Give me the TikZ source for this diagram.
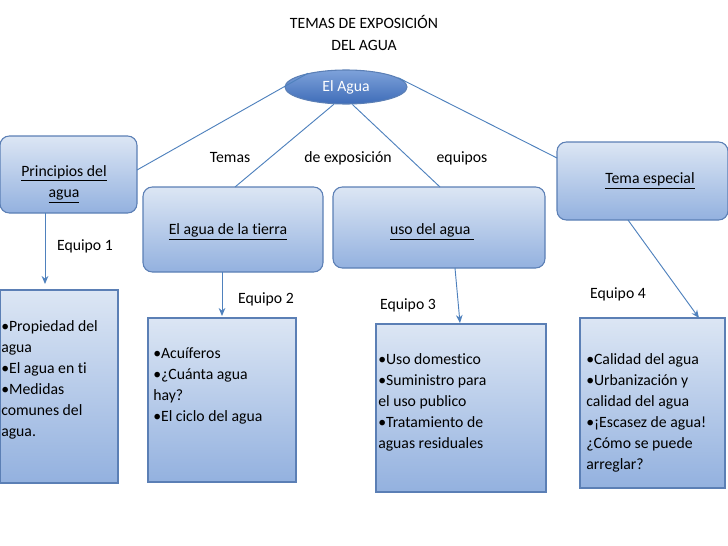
\documentclass[tikz,border=0pt]{standalone}
\usepackage{fontspec}
\setmainfont[Ligatures=NoCommon]{Carlito}
\usetikzlibrary{shapes.geometric,arrows.meta}
\definecolor{bord}{HTML}{5B7FB5}
\definecolor{ctop}{HTML}{DCE6F4}
\definecolor{cbot}{HTML}{93B1DF}
\definecolor{eltop}{HTML}{7EA2DA}
\definecolor{elbot}{HTML}{3E6CB8}
\definecolor{arr}{HTML}{4F81BD}
\begin{document}
\begin{tikzpicture}[x=0.75pt,y=-0.75pt,
  box/.style={draw=bord,line width=0.8pt,top color=ctop,bottom color=cbot},
  rbox/.style={box,rounded corners=7pt},
  txt/.style={font=\fontsize{11.8}{15.8}\selectfont,inner sep=0pt},
  lst/.style={txt,align=left,anchor=north west},
  con/.style={draw=arr,line width=0.7pt},
  arw/.style={con,-{Stealth[length=6pt,width=5pt]}}]
\useasboundingbox (0,0) rectangle (728,546);
\node[txt,align=center] (title) at (364,33) {TEMAS DE EXPOSICIÓN\\DEL AGUA};
\node[ellipse,draw=bord,line width=0.8pt,top color=eltop,bottom color=elbot,minimum width=122*0.75pt,minimum height=34*0.75pt,inner sep=0pt,text=white,font=\fontsize{11.8}{13}\selectfont] (agua) at (346,87) {El Agua};
\draw[rbox] (0,136) rectangle (137,213);
\node[txt,align=center] (p) at (64,184) {\underline{Principios del}\\\underline{agua}};
\draw[rbox] (143,187) rectangle (323,272);
\node[txt] (t) at (228,232) {\underline{El agua de la tierra}};
\draw[rbox] (333,187) rectangle (545,268);
\node[txt] (u) at (432,232) {\underline{uso del agua\ }};
\draw[rbox] (557,142) rectangle (728,220);
\node[txt] (e) at (650,181) {\underline{Tema especial}};
\coordinate (pR) at (137,170); \coordinate (tT) at (235,187);
\coordinate (uT) at (440,187); \coordinate (eL) at (557,158);
\draw[con] (agua.160) -- (pR);
\draw[con] (agua.235) -- (tT);
\draw[con] (agua.290) -- (uT);
\draw[con] (agua.10) -- (eL);
\node[txt] (l1) at (230,158) {Temas};
\node[txt] (l2) at (348,158) {de exposición};
\node[txt] (l3) at (462,158) {equipos};
\draw[box] (0,290) rectangle (118,483);
\draw[box] (148,318) rectangle (296,482);
\draw[box] (376,324) rectangle (546,492);
\draw[box] (580,318) rectangle (725,488);
\node[lst] (b1) at (1,320) {•Propiedad del\\agua\\•El agua en ti\\•Medidas\\comunes del\\agua.};
\node[lst] (b2) at (153,347) {•Acuíferos\\•¿Cuánta agua\\hay?\\•El ciclo del agua};
\node[lst] (b3) at (378,353) {•Uso domestico\\•Suministro para\\el uso publico\\•Tratamiento de\\aguas residuales};
\node[lst] (b4) at (586,353) {•Calidad del agua\\•Urbanización y\\calidad del agua\\•¡Escasez de agua!\\¿Cómo se puede\\arreglar?};
\coordinate (a1s) at (45,213); \coordinate (a1e) at (45,284);
\coordinate (a2s) at (222,272); \coordinate (a2e) at (222,316);
\coordinate (a3s) at (455,268); \coordinate (a3e) at (460,323);
\coordinate (a4s) at (628,220); \coordinate (a4e) at (699,318);
\draw[arw] (a1s) -- (a1e);
\draw[arw] (a2s) -- (a2e);
\draw[arw] (a3s) -- (a3e);
\draw[arw] (a4s) -- (a4e);
\node[txt] (q1) at (85,246) {Equipo 1};
\node[txt] (q2) at (266,299) {Equipo 2};
\node[txt] (q3) at (408,305) {Equipo 3};
\node[txt] (q4) at (618,294) {Equipo 4};
\end{tikzpicture}
\end{document}
